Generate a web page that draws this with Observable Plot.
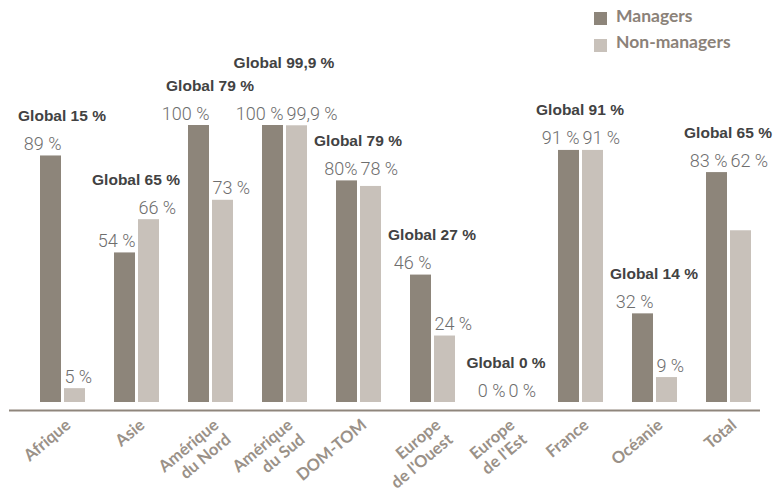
<!DOCTYPE html>
<html><head><meta charset="utf-8">
<script src="https://cdn.jsdelivr.net/npm/d3@7"></script>
<script src="https://cdn.jsdelivr.net/npm/@observablehq/plot@0.6"></script>
<style>
body{margin:0;background:#fff;}
#wrap{position:relative;width:776px;height:492px;overflow:hidden;}
.sw{position:absolute;width:13px;height:13px;}
.lt{position:absolute;font-family:Lato,sans-serif;font-weight:700;font-size:17.5px;line-height:20px;color:#8b8279;white-space:nowrap;}
</style></head>
<body><div id="wrap"></div>
<script>
const categories = ["Afrique","Asie","Amérique du Nord","Amérique du Sud","DOM-TOM","Europe de l'Ouest","Europe de l'Est","France","Océanie","Total"];
const tickLabels = ["Afrique","Asie","Amérique\ndu Nord","Amérique\ndu Sud","DOM-TOM","Europe\nde l'Ouest","Europe\nde l'Est","France","Océanie","Total"];
const managers = [89,54,100,100,80,46,0,91,32,83];
const nonManagers = [5,66,73,99.9,78,24,0,91,9,62];
const globalLabels = ["Global 15 %","Global 65 %","Global 79 %","Global 99,9 %","Global 79 %","Global 27 %","Global 0 %","Global 91 %","Global 14 %","Global 65 %"];
const managerLabels = ["89 %","54 %","100 %","100 %","80%","46 %","0 %","91 %","32 %","83 %"];
const nonManagerLabels = ["5 %","66 %","73 %","99,9 %","78 %","24 %","0 %","91 %","9 %","62 %"];
const seriesNames = ["Managers","Non-managers"];
const seriesColors = ["#8d857a","#c8c1ba"];

const rows = categories.map((c, i) => ({
  c, m: managers[i], n: nonManagers[i],
  ml: managerLabels[i], nl: nonManagerLabels[i], gl: globalLabels[i],
  // paired labels sit on the same level as the managers' label
  nLevel: (c === "DOM-TOM" || c === "Total") ? managers[i] : nonManagers[i],
  gLevel: Math.max(managers[i], nonManagers[i]) + (c === "Amérique du Sud" ? 8 : 0)
}));

const valueStyle = {fontFamily: "Roboto", fontWeight: 300, fontSize: 18, fill: "#6e6e6e", lineAnchor: "bottom", dy: -6};

const chart = Plot.plot({
  width: 776, height: 492,
  marginLeft: 9, marginRight: 16, marginTop: 125, marginBottom: 90,
  insetLeft: 29, insetRight: 7,
  x: {domain: categories, paddingInner: 0.395, paddingOuter: 0},
  y: {domain: [0, 100], axis: null},
  style: {background: "#fff", overflow: "visible"},
  marks: [
    Plot.barY(rows, {x: "c", y: "m", fill: seriesColors[0], insetRight: 24}),
    Plot.barY(rows, {x: "c", y: "n", fill: seriesColors[1], insetLeft: 24}),
    Plot.ruleY([0], {dy: 8, stroke: "#8f867c", strokeWidth: 2}),
    Plot.text(rows, {x: "c", y: "m", text: "ml", textAnchor: "end", dx: -1.5, ...valueStyle}),
    Plot.text(rows, {x: "c", y: "nLevel", text: "nl", textAnchor: "start", dx: 1.5, ...valueStyle}),
    Plot.text(rows, {x: "c", y: "gLevel", text: "gl", lineAnchor: "bottom", dy: -35, dx: -1,
      fontFamily: "Liberation Sans", fontWeight: "bold", fontSize: 15.5, fill: "#424242"}),
    Plot.axisX({tickSize: 0, tickPadding: 14, rotate: -40, textAnchor: "end", lineAnchor: "top",
      fontSize: 16.5, fontWeight: 700, fontFamily: "Lato", fill: "#9a9188", lineHeight: 1.15, label: null,
      tickFormat: d => tickLabels[categories.indexOf(d)]})
  ]
});
const wrap = document.getElementById("wrap");
wrap.appendChild(chart);

seriesNames.forEach((name, i) => {
  const sw = document.createElement("div");
  sw.className = "sw";
  sw.style.left = "594px"; sw.style.top = (12 + i * 26.5) + "px";
  sw.style.background = seriesColors[i];
  const t = document.createElement("div");
  t.className = "lt";
  t.style.left = "616px"; t.style.top = (6 + i * 25.5) + "px";
  t.textContent = name;
  wrap.appendChild(sw); wrap.appendChild(t);
});
</script>
</body></html>
